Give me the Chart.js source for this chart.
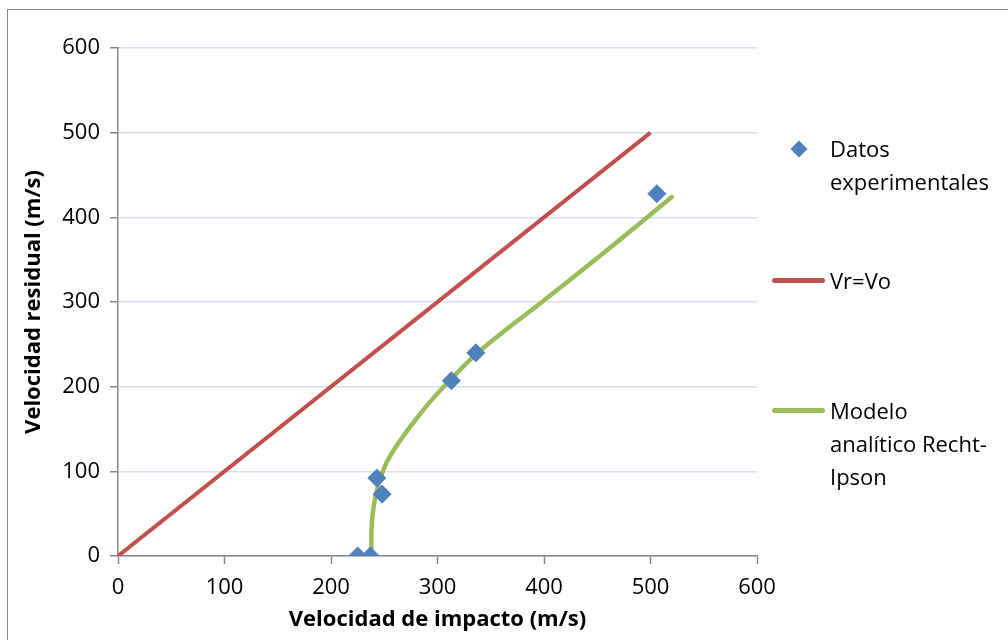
<!DOCTYPE html>
<html>
<head>
<meta charset="utf-8">
<script src="https://cdn.jsdelivr.net/npm/chart.js@4.4.1/dist/chart.umd.min.js"></script>
<style>
  html, body { margin: 0; padding: 0; background: #fff; }
  #wrap { position: relative; width: 1008px; height: 640px; overflow: hidden; }
  #frame { position: absolute; left: 7px; top: 9px; width: 1020px; height: 660px; border: 1.5px solid #868686; box-sizing: border-box; }
  #legend { position: absolute; left: 0; top: 0; font-family: "Open Sans", sans-serif; font-size: 22px; color: #000; }
  .item { position: absolute; left: 771px; }
  .item .txt { position: absolute; left: 59px; line-height: 33px; white-space: nowrap; }
  .item .sym { position: absolute; }
</style>
</head>
<body>
<div id="wrap">
  <div id="frame"></div>
  <canvas id="residualChart" width="1008" height="640"></canvas>
  <div id="legend"></div>
</div>
<script>
// puntos experimentales (velocidad de impacto, velocidad residual)
const datosVo = [225, 237, 243, 248, 313, 336, 506];
const datosVr = [0, 0, 92, 73, 207, 240, 428];

// recta Vr = Vo
const rectaVo = [0, 500];
const rectaVr = [0, 500];

// modelo Recht-Ipson
const modeloVo = [238, 238, 240, 244, 252, 263, 277, 293, 309, 335, 365, 396, 460, 520];
const modeloVr = [0, 31, 58, 82, 110, 133, 157, 182, 204, 237, 268, 298, 362, 424];

const axisTicks = [0, 100, 200, 300, 400, 500, 600];

const seriesNames = ["Datos experimentales", "Vr=Vo", "Modelo analítico Recht-Ipson"];
const legendLines = [["Datos", "experimentales"], ["Vr=Vo"], ["Modelo", "analítico Recht-", "Ipson"]];

function toPoints(xs, ys) {
    return xs.map((x, i) => ({ x: x, y: ys[i] }));
}

const fontFamily = "'Open Sans', sans-serif";

let ctx = document.getElementById('residualChart').getContext('2d');

const chart = new Chart(ctx, {
    type: 'scatter',
    data: {
        datasets: [
            {
                label: seriesNames[0],
                data: toPoints(datosVo, datosVr),
                pointStyle: 'rectRot',
                pointRadius: 9,
                pointBackgroundColor: '#4F81BD',
                pointBorderColor: '#4F81BD',
                pointBorderWidth: 1,
                showLine: false
            },
            {
                label: seriesNames[1],
                data: toPoints(rectaVo, rectaVr),
                showLine: true,
                borderColor: '#C0504D',
                borderWidth: 4,
                pointRadius: 0
            },
            {
                label: seriesNames[2],
                data: toPoints(modeloVo, modeloVr),
                showLine: true,
                borderColor: '#9BBB59',
                borderWidth: 4.5,
                borderCapStyle: 'round',
                tension: 0.3,
                pointRadius: 0
            }
        ]
    },
    options: {
        responsive: false,
        animation: false,
        layout: { padding: { left: 0, top: 48, right: 251, bottom: 0 } },
        plugins: {
            legend: { display: false },
            tooltip: { enabled: false }
        },
        scales: {
            x: {
                type: 'linear',
                min: 0,
                max: 600,
                afterBuildTicks: (s) => { s.ticks = axisTicks.map(v => ({ value: v })); },
                afterFit: (s) => { s.height = 84; },
                ticks: { color: '#000', font: { family: fontFamily, size: 22 }, padding: 11, maxRotation: 0 },
                grid: { drawOnChartArea: false, tickLength: 8, tickColor: '#868686', tickWidth: 1.5 },
                border: { color: '#868686', width: 1.5 },
                title: { display: true, text: 'Velocidad de impacto (m/s)', color: '#000', font: { family: fontFamily, size: 22, weight: 'bold' }, padding: { top: 0, bottom: 7 } }
            },
            y: {
                type: 'linear',
                min: 0,
                max: 600,
                afterBuildTicks: (s) => { s.ticks = axisTicks.map(v => ({ value: v })); },
                afterFit: (s) => { s.width = 118; },
                ticks: { color: '#000', font: { family: fontFamily, size: 22 }, padding: 10 },
                grid: { color: '#D5DFF1', lineWidth: 1.5, tickLength: 8, tickColor: '#868686', tickWidth: 1.5 },
                border: { color: '#868686', width: 1.5 },
                title: { display: true, text: 'Velocidad residual (m/s)', color: '#000', font: { family: fontFamily, size: 22, weight: 'bold' }, padding: { top: 21, bottom: 0 } }
            }
        }
    }
});

// leyenda a la derecha, con texto en varias lineas
const legendTops = [132, 264, 394];
const legendBox = document.getElementById('legend');
chart.data.datasets.forEach((ds, i) => {
    let item = document.createElement('div');
    item.className = 'item';
    item.style.top = legendTops[i] + 'px';
    let sym = document.createElement('div');
    sym.className = 'sym';
    if (i === 0) {
        sym.style.cssText = 'left:22px;top:11px;width:12px;height:12px;background:' + ds.pointBackgroundColor + ';transform:rotate(45deg);';
    } else {
        sym.style.cssText = 'left:1px;top:14px;width:53px;height:4.5px;border-radius:3px;background:' + ds.borderColor + ';';
    }
    item.appendChild(sym);
    let txt = document.createElement('div');
    txt.className = 'txt';
    txt.innerHTML = legendLines[i].join('<br>');
    item.appendChild(txt);
    legendBox.appendChild(item);
});
</script>
</body>
</html>
